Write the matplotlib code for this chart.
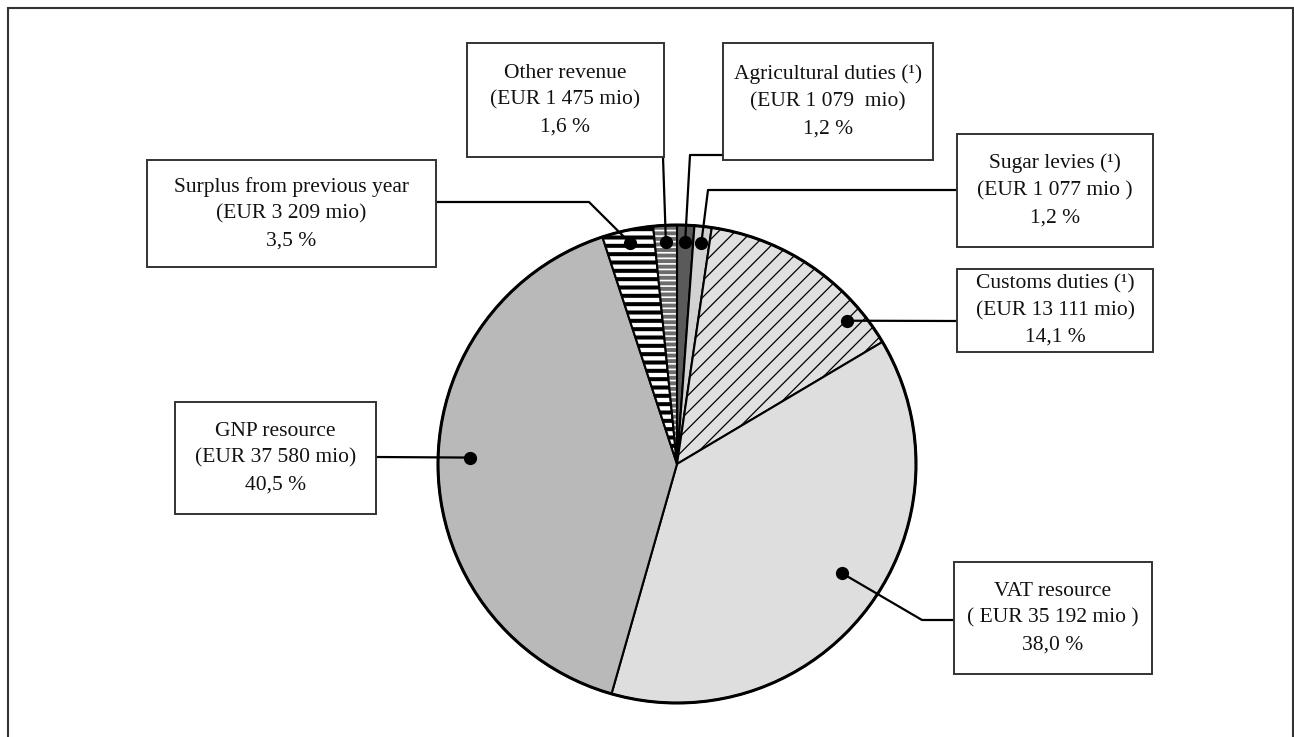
import matplotlib
matplotlib.use("Agg")
import matplotlib.pyplot as plt
from matplotlib.patches import Rectangle, Wedge
import numpy as np

W, H = 1294, 737

# revenue sources, clockwise from twelve o'clock
names = ["Agricultural duties (¹)", "Sugar levies (¹)", "Customs duties (¹)",
         "VAT resource", "GNP resource", "Surplus from previous year",
         "Other revenue"]
amounts = [1079, 1077, 13111, 35192, 37580, 3209, 1475]  # EUR mio
amount_fmt = ["(EUR {}  mio)", "(EUR {} mio )", "(EUR {} mio)",
              "( EUR {} mio )", "(EUR {} mio)", "(EUR {} mio)", "(EUR {} mio)"]

fills = ["#5a5a5a", "#d2d2d2", "#e0e0e0", "#dedede", "#b9b9b9", "white", "#6c6c6c"]
hatches = [None, None, "//", None, None, "--", "---"]
hatch_cols = [None, None, "black", None, None, "black", "white"]
hatch_lws = [None, None, 0.9, None, None, 2.9, 1.2]

# label boxes in pixels (x0, y0, x1, y1), y measured from the top
boxes = [(723, 43, 933, 160), (957, 134, 1153, 247), (957, 269, 1153, 352),
         (954, 562, 1152, 674), (175, 402, 376, 514), (147, 160, 436, 267),
         (467, 43, 664, 157)]
# leader line points from the box towards the dot
leaders = [[(723, 155), (690, 155)], [(957, 190), (708, 190)], [(957, 321)],
           [(954, 620), (922, 620)], [(376, 457)], [(436, 202), (589, 202)],
           [(663, 157)]]
# dot position inside each wedge: fraction of the wedge span, fraction of radius
anchor_frac = [0.5, 0.5, 0.815, 0.47, 0.52, 0.5, 0.5]
anchor_rad = [0.93, 0.93, 0.93, 0.83, 0.866, 0.945, 0.93]

cx, cy, R = 677, 464, 239

fig = plt.figure(figsize=(W / 100, H / 100), dpi=100)
ax = fig.add_axes([0, 0, 1, 1])

wedges, _ = ax.pie(amounts, colors=fills, startangle=90, counterclock=False,
                   center=(cx, H - cy), radius=R,
                   wedgeprops=dict(edgecolor="black", linewidth=1.5))
ax.set_xlim(0, W)
ax.set_ylim(0, H)
ax.set_aspect("equal")
ax.axis("off")

for w, hp, hc, hl in zip(wedges, hatches, hatch_cols, hatch_lws):
    if hp is None:
        continue
    w.set_hatch(hp)
    if hasattr(w, "set_hatch_linewidth"):
        w.set_hatch_linewidth(hl)
    if hc != "black":
        # hatch takes the edge colour, so redraw the black outline on top
        w.set_edgecolor(hc)
        w.set_linewidth(0)
        ax.add_patch(Wedge(w.center, w.r, w.theta1, w.theta2, fill=False,
                           edgecolor="black", linewidth=1.5, zorder=w.get_zorder() + 0.1))

# heavier outer rim
ax.add_patch(plt.Circle((cx, H - cy), R, fill=False, edgecolor="black", lw=2.2, zorder=3))

total = sum(amounts)
for w, name, amt, fmt, box, pts, fa, fr in zip(wedges, names, amounts, amount_fmt,
                                               boxes, leaders, anchor_frac, anchor_rad):
    # wedge angles are counter-clockwise; theta2 is the start going clockwise
    ang = np.deg2rad(w.theta2 - fa * (w.theta2 - w.theta1))
    dx = cx + fr * R * np.cos(ang)
    dy = (H - cy) + fr * R * np.sin(ang)
    xs = [p[0] for p in pts] + [dx]
    ys = [H - p[1] for p in pts] + [dy]
    ax.plot(xs, ys, color="black", lw=1.6, zorder=5, solid_capstyle="butt")
    ax.plot(dx, dy, "o", color="black", ms=8.5, zorder=6)

    x0, y0, x1, y1 = box
    ax.add_patch(Rectangle((x0, H - y1), x1 - x0, y1 - y0, facecolor="white",
                           edgecolor="#333333", lw=1.4, zorder=7))
    pct = f"{100 * amt / total:.1f}".replace(".", ",") + " %"
    amt_txt = f"{amt:,}".replace(",", " ")
    label = f"{name}\n{fmt.format(amt_txt)}\n{pct}"
    ax.text((x0 + x1) / 2, H - (y0 + y1) / 2, label, ha="center", va="center",
            family="Liberation Serif", fontsize=15.5, linespacing=1.55,
            color="#111111", zorder=8)

# outer frame
fig.patches.append(Rectangle((8 / W, -0.01), (1293 - 8) / W, (H - 8) / H + 0.01,
                             transform=fig.transFigure, fill=False,
                             edgecolor="#333333", lw=1.5))

fig.savefig("out.png", dpi=100)
